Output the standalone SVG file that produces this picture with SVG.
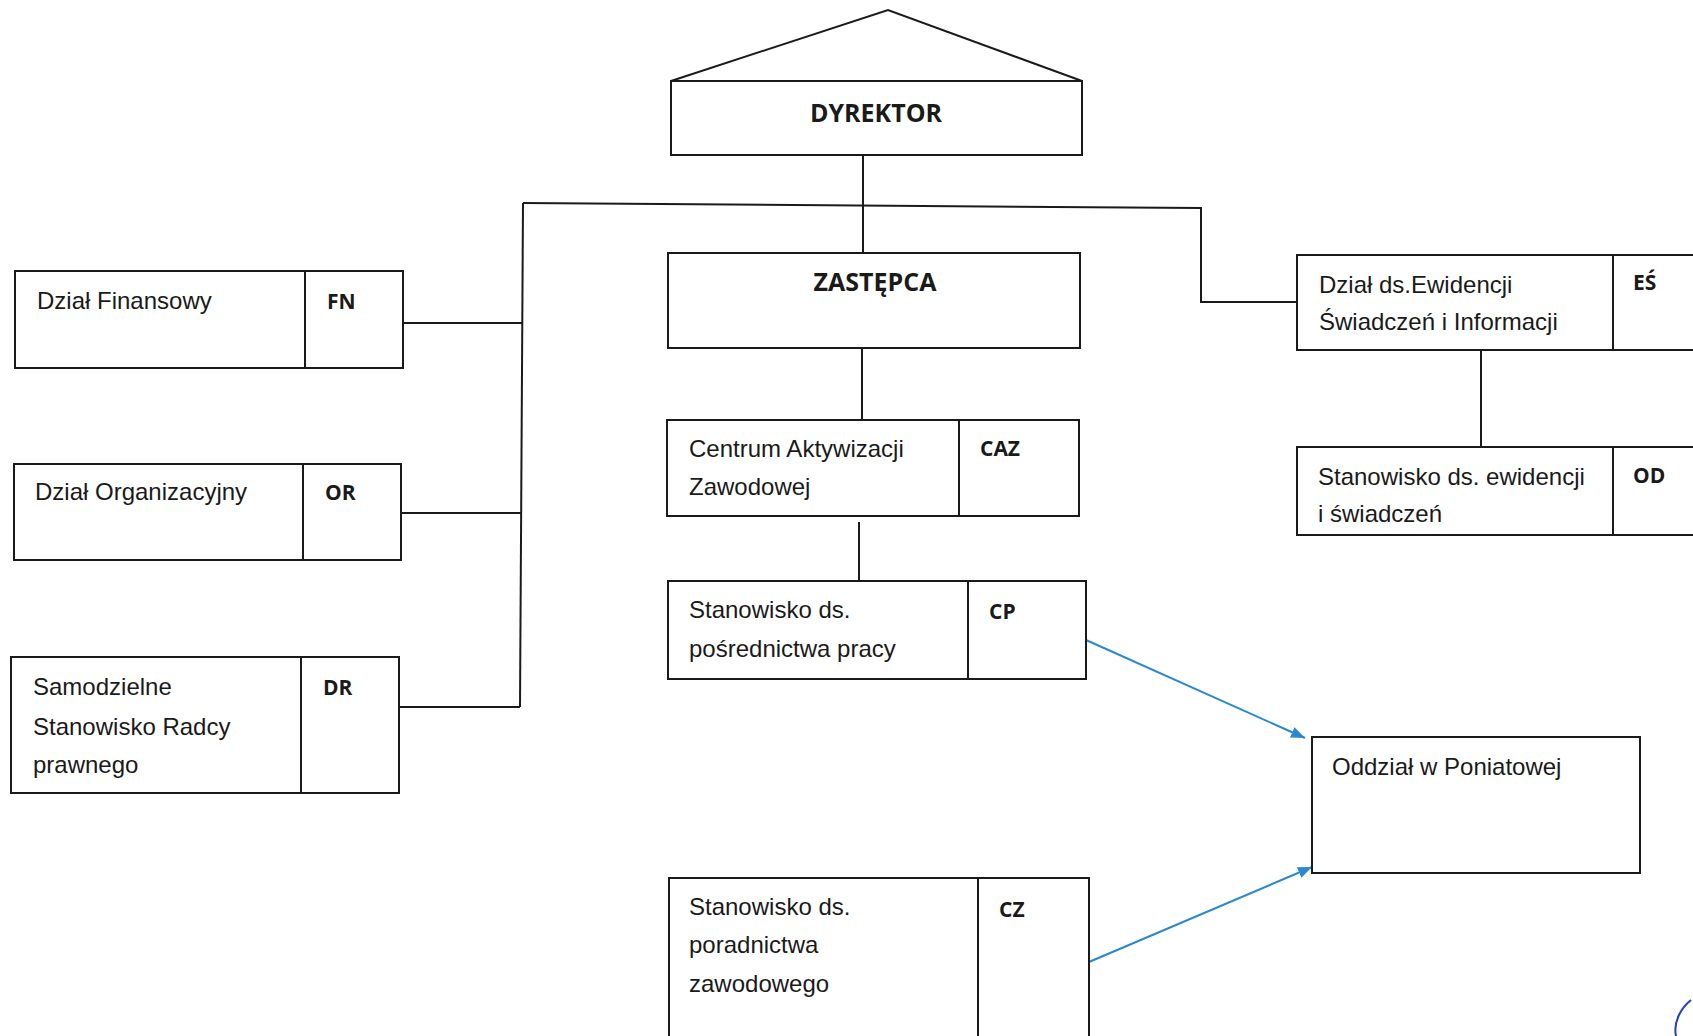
<svg xmlns="http://www.w3.org/2000/svg" width="1693" height="1036" viewBox="0 0 1693 1036">
<style>
.box{fill:#fff;stroke:#1a1a1a;stroke-width:2}
.ln{fill:none;stroke:#1a1a1a;stroke-width:2}
.t{font-family:"Liberation Sans",Arial,sans-serif;font-size:24px;fill:#1a1a1a}
.c{font-family:"Open Sans","Liberation Sans",sans-serif;font-weight:700;font-size:21px;fill:#1a1a1a}
.h{font-family:"Open Sans","Liberation Sans",sans-serif;font-weight:700;font-size:25px;fill:#1a1a1a}
.blue{fill:none;stroke:#2a88d0;stroke-width:2}
</style>
<defs>
<marker id="arrb" viewBox="0 0 10 10" refX="10" refY="5" markerWidth="14" markerHeight="14" orient="auto" markerUnits="userSpaceOnUse">
<path d="M0,1 L10,5 L0,9 z" fill="#2a88d0"/>
</marker>
</defs>
<rect width="1693" height="1036" fill="#fff"/>

<g id="connectors">
<path class="ln" d="M863,155 L863,253"/>
<path class="ln" d="M523,203 L1201,208 L1201,302 L1297,302"/>
<path class="ln" d="M523,203 L520,707"/>
<path class="ln" d="M403,323 L523,323"/>
<path class="ln" d="M401,513 L522,513"/>
<path class="ln" d="M399,707 L520,707"/>
<path class="ln" d="M862,348 L862,420"/>
<path class="ln" d="M859,522 L859,581"/>
<path class="ln" d="M1481,350 L1481,447"/>
<path class="blue" d="M1086,640 L1305,738" marker-end="url(#arrb)"/>
<path class="blue" d="M1089,962 L1312,867" marker-end="url(#arrb)"/>
</g>

<g id="dyrektor">
<path class="box" d="M671,81 L888,10 L1082,81 Z"/>
<rect class="box" x="671" y="81" width="411" height="74"/>
<text class="h" x="876" y="122" text-anchor="middle">DYREKTOR</text>
</g>

<g id="zastepca">
<rect class="box" x="668" y="253" width="412" height="95"/>
<text class="h" x="875" y="291" text-anchor="middle">ZASTĘPCA</text>
</g>

<g id="fn">
<rect class="box" x="15" y="271" width="388" height="97"/>
<line class="ln" x1="305" y1="271" x2="305" y2="368"/>
<text class="t" x="37" y="309">Dział Finansowy</text>
<text class="c" x="327" y="309">FN</text>
</g>

<g id="or">
<rect class="box" x="14" y="464" width="387" height="96"/>
<line class="ln" x1="303" y1="464" x2="303" y2="560"/>
<text class="t" x="35" y="500">Dział Organizacyjny</text>
<text class="c" x="325" y="500">OR</text>
</g>

<g id="dr">
<rect class="box" x="11" y="657" width="388" height="136"/>
<line class="ln" x1="301" y1="657" x2="301" y2="793"/>
<text class="t" x="33" y="695">Samodzielne</text>
<text class="t" x="33" y="735">Stanowisko  Radcy</text>
<text class="t" x="33" y="773">prawnego</text>
<text class="c" x="323" y="695">DR</text>
</g>

<g id="caz">
<rect class="box" x="667" y="420" width="412" height="96"/>
<line class="ln" x1="959" y1="420" x2="959" y2="516"/>
<text class="t" x="689" y="457">Centrum Aktywizacji</text>
<text class="t" x="689" y="495">Zawodowej</text>
<text class="c" x="980" y="456">CAZ</text>
</g>

<g id="cp">
<rect class="box" x="668" y="581" width="418" height="98"/>
<line class="ln" x1="968" y1="581" x2="968" y2="679"/>
<text class="t" x="689" y="618">Stanowisko ds.</text>
<text class="t" x="689" y="657">pośrednictwa pracy</text>
<text class="c" x="989" y="619">CP</text>
</g>

<g id="cz">
<rect class="box" x="669" y="878" width="420" height="170"/>
<line class="ln" x1="978" y1="878" x2="978" y2="1048"/>
<text class="t" x="689" y="915">Stanowisko ds.</text>
<text class="t" x="689" y="953">poradnictwa</text>
<text class="t" x="689" y="992">zawodowego</text>
<text class="c" x="999" y="917">CZ</text>
</g>

<g id="es">
<rect class="box" x="1297" y="255" width="420" height="95"/>
<line class="ln" x1="1613" y1="255" x2="1613" y2="350"/>
<text class="t" x="1319" y="293">Dział ds.Ewidencji</text>
<text class="t" x="1319" y="330">Świadczeń i Informacji</text>
<text class="c" x="1633" y="290">EŚ</text>
</g>

<g id="od">
<rect class="box" x="1297" y="447" width="420" height="88"/>
<line class="ln" x1="1613" y1="447" x2="1613" y2="535"/>
<text class="t" x="1318" y="485">Stanowisko ds. ewidencji</text>
<text class="t" x="1318" y="522">i świadczeń</text>
<text class="c" x="1633" y="483">OD</text>
</g>

<g id="oddzial">
<rect class="box" x="1312" y="737" width="328" height="136"/>
<text class="t" x="1332" y="775">Oddział w Poniatowej</text>
</g>

<path d="M1691,1000 C1681,1008 1673,1022 1676,1036" fill="none" stroke="#2040c0" stroke-width="2"/>
</svg>
